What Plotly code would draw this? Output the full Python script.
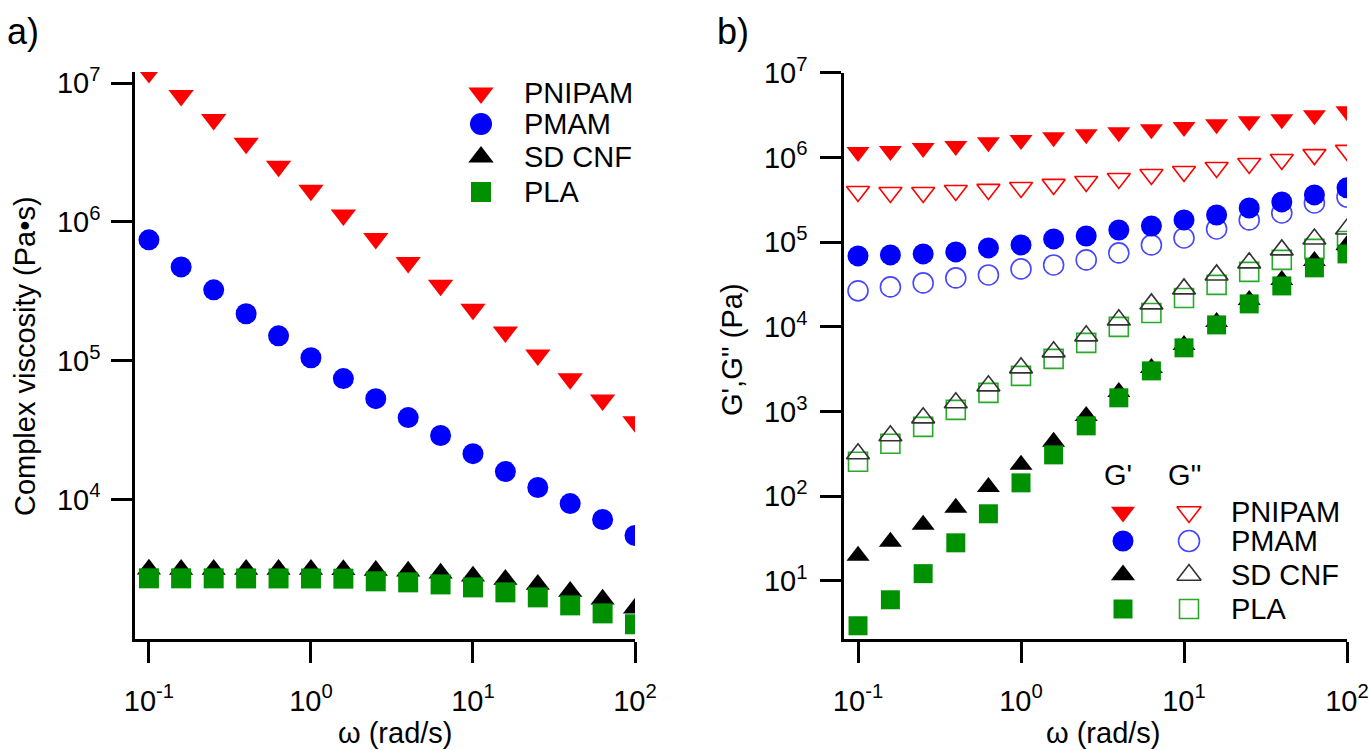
import plotly.graph_objects as go

# angular frequency (rad/s), 5 points per decade
omega = [0.1, 0.158, 0.251, 0.398, 0.631, 1.0, 1.585, 2.512, 3.981, 6.31,
         10.0, 15.85, 25.12, 39.81, 63.1, 100.0]

# a) complex viscosity (Pa s)
eta_pnipam = [1.19e7, 8.15e6, 5.47e6, 3.68e6, 2.52e6, 1.69e6, 1.12e6, 7.6e5,
              5.1e5, 3.5e5, 2.35e5, 1.61e5, 1.1e5, 7.4e4, 5.2e4, 3.63e4]
eta_pmam = [7.43e5, 4.74e5, 3.24e5, 2.18e5, 1.51e5, 1.05e5, 7.43e4, 5.33e4,
            3.89e4, 2.89e4, 2.14e4, 1.59e4, 1.22e4, 9.35e3, 7.18e3, 5.5e3]
eta_sdcnf = [3140, 3135, 3135, 3130, 3130, 3125, 3120, 3085, 3036, 2937,
             2795, 2656, 2445, 2176, 1908, 1644]
eta_pla = [2705, 2704, 2704, 2700, 2700, 2698, 2690, 2573, 2530, 2445,
           2327, 2143, 1972, 1727, 1512, 1262]

# b) storage G' and loss G'' moduli (Pa)
gp_pnipam = [1.16e6, 1.19e6, 1.29e6, 1.36e6, 1.51e6, 1.6e6, 1.73e6, 1.88e6,
             1.98e6, 2.15e6, 2.28e6, 2.47e6, 2.68e6, 2.82e6, 3.15e6, 3.5e6]
gpp_pnipam = [3.96e5, 3.85e5, 3.85e5, 4.07e5, 4.19e5, 4.42e5, 4.8e5, 5.2e5,
              5.64e5, 6.29e5, 6.83e5, 7.61e5, 8.49e5, 9.46e5, 1.08e6, 1.21e6]
gp_pmam = [6.87e4, 7.06e4, 7.26e4, 7.66e4, 8.55e4, 9.27e4, 1.09e5, 1.18e5,
           1.39e5, 1.55e5, 1.83e5, 2.09e5, 2.53e5, 2.98e5, 3.61e5, 4.37e5]
gpp_pmam = [2.66e4, 2.96e4, 3.30e4, 3.78e4, 4.10e4, 4.83e4, 5.38e4, 6.17e4,
            7.46e4, 9.27e4, 1.12e5, 1.43e5, 1.83e5, 2.21e5, 2.90e5, 3.41e5]
gp_sdcnf = [19.8, 29.0, 46.0, 73.1, 129, 235, 439, 889,
            1706, 3273, 6120, 11430, 20800, 35800, 60000, 92700]
gpp_sdcnf = [317, 517, 843, 1268, 2011, 3280, 5070, 7820,
             12080, 18660, 28040, 41000, 56900, 80900, 109000, 143000]
gp_pla = [2.96, 6.0, 12.2, 28.2, 62.1, 144, 308, 678,
          1452, 3020, 5650, 10540, 18660, 30400, 49700, 72600]
gpp_pla = [255, 416, 660, 1047, 1662, 2637, 4186, 6466,
           9980, 14590, 21940, 31250, 44500, 61700, 83200, 103000]

names = ["PNIPAM", "PMAM", "SD CNF", "PLA"]
x_ticks = [0.1, 1, 10, 100]
x_text = ["10<sup>-1</sup>", "10<sup>0</sup>", "10<sup>1</sup>", "10<sup>2</sup>"]
ya_ticks = [1e4, 1e5, 1e6, 1e7]
ya_text = ["10<sup>4</sup>", "10<sup>5</sup>", "10<sup>6</sup>", "10<sup>7</sup>"]
yb_ticks = [1e1, 1e2, 1e3, 1e4, 1e5, 1e6, 1e7]
yb_text = ["10<sup>%d</sup>" % k for k in range(1, 8)]

RED = "#ff0000"
BLUE = "#0000ff"
BLACK = "#000000"
GREEN = "rgb(0,145,0)"
OPEN_BLUE = "rgb(70,70,255)"
OPEN_GREEN = "rgb(40,170,40)"
FONT = "Liberation Sans, Arial, sans-serif"

W, H = 1369, 750
fig = go.Figure()


def fx(px):
    return px / W


def fy(py):
    return 1 - py / H


def pts(x, y, sym, color, size, xa="x", ya="y", open_=False, lc=None):
    if open_:
        mk = dict(symbol=sym + "-open", size=size, color=lc or color,
                  line=dict(width=1.6, color=lc or color))
    else:
        mk = dict(symbol=sym, size=size, color=color, line=dict(width=0))
    fig.add_trace(go.Scatter(x=x, y=y, mode="markers", marker=mk,
                             xaxis=xa, yaxis=ya, showlegend=False,
                             hoverinfo="x+y"))


# panel a
pts(omega, eta_pnipam, "triangle-down", RED, 22)
pts(omega, eta_pmam, "circle", BLUE, 21)
pts(omega, eta_sdcnf, "triangle-up", BLACK, 21)
pts(omega, eta_pla, "square", GREEN, 20)

# panel b
pts(omega, gpp_pla, "square", GREEN, 19, "x2", "y2", True, OPEN_GREEN)
pts(omega, gpp_sdcnf, "triangle-up", BLACK, 20, "x2", "y2", True, "#333333")
pts(omega, gpp_pmam, "circle", BLUE, 20, "x2", "y2", True, OPEN_BLUE)
pts(omega, gpp_pnipam, "triangle-down", RED, 20, "x2", "y2", True)
pts(omega, gp_sdcnf, "triangle-up", BLACK, 20, "x2", "y2")
pts(omega, gp_pla, "square", GREEN, 19, "x2", "y2")
pts(omega, gp_pmam, "circle", BLUE, 21, "x2", "y2")
pts(omega, gp_pnipam, "triangle-down", RED, 20, "x2", "y2")

# legend keys, drawn on a pixel overlay axis
leg_a_rows = [93, 124, 157, 192]
leg_b_rows = [512, 541, 575, 609]
syms = ["triangle-down", "circle", "triangle-up", "square"]
fills = [RED, BLUE, BLACK, GREEN]
opens = [RED, OPEN_BLUE, "#333333", OPEN_GREEN]
for s, c, yy in zip(syms, fills, leg_a_rows):
    pts([481], [yy], s, c, 22 if s != "square" else 20, "x3", "y3")
for s, c, oc, yy in zip(syms, fills, opens, leg_b_rows):
    pts([1123], [yy], s, c, 21 if s != "square" else 19, "x3", "y3")
    pts([1189], [yy], s, c, 21 if s != "square" else 19, "x3", "y3", True, oc)

axis_common = dict(type="log", showline=True, linecolor="black", linewidth=2.5,
                   ticks="outside", ticklen=21, tickwidth=2.5, tickcolor="black",
                   showgrid=False, zeroline=False, automargin=False,
                   tickfont=dict(family=FONT, size=29, color="black"))

fig.update_layout(
    width=W, height=H,
    margin=dict(l=0, r=0, t=0, b=0, pad=0, autoexpand=False),
    paper_bgcolor="white", plot_bgcolor="rgba(0,0,0,0)",
    showlegend=False,
    xaxis=dict(axis_common, domain=[fx(135), fx(635)], range=[-1.086, 2.0],
               tickvals=x_ticks, ticktext=x_text, anchor="y",
               ticklabelstandoff=13),
    yaxis=dict(axis_common, domain=[fy(639), fy(72)], range=[2.995, 7.08],
               tickvals=ya_ticks, ticktext=ya_text, anchor="x",
               ticklabelstandoff=5),
    xaxis2=dict(axis_common, domain=[fx(844), fx(1347)], range=[-1.086, 2.0],
                tickvals=x_ticks, ticktext=x_text, anchor="y2",
                ticklabelstandoff=13),
    yaxis2=dict(axis_common, domain=[fy(639), fy(72.7)],
                range=[0.315, 7.0], tickvals=yb_ticks, ticktext=yb_text,
                anchor="x2", ticklabelstandoff=7),
    xaxis3=dict(domain=[0, 1], range=[0, W], visible=False, anchor="y3",
                automargin=False),
    yaxis3=dict(domain=[0, 1], range=[H, 0], visible=False, anchor="x3",
                automargin=False),
)


def label(text, px, py, size=29, angle=0, xanchor="center"):
    fig.add_annotation(text=text, x=fx(px), y=fy(py), xref="paper",
                       yref="paper", showarrow=False, textangle=angle,
                       xanchor=xanchor, yanchor="middle",
                       font=dict(family=FONT, size=size, color="black"))


label("a)", 23, 31, 36)
label("b)", 733, 31, 36)
label("Complex viscosity (Pa•s)", 25, 356, 29, -90)
label("G',G'' (Pa)", 732, 350, 29, -90)
label("ω (rad/s)", 395, 733, 29)
label("ω (rad/s)", 1103, 733, 29)
for n, yy in zip(names, leg_a_rows):
    label(n, 522, yy, 29, xanchor="left")
label("G'", 1118, 475, 29)
label("G''", 1185, 475, 29)
for n, yy in zip(names, leg_b_rows):
    label(n, 1229, yy, 29, xanchor="left")

# drop the page's default body margin so the figure sits at the window origin
fig.write_html("out.html", config={"displayModeBar": False},
               post_script="document.body.style.margin='0';"
                           "document.body.style.overflow='hidden';")
